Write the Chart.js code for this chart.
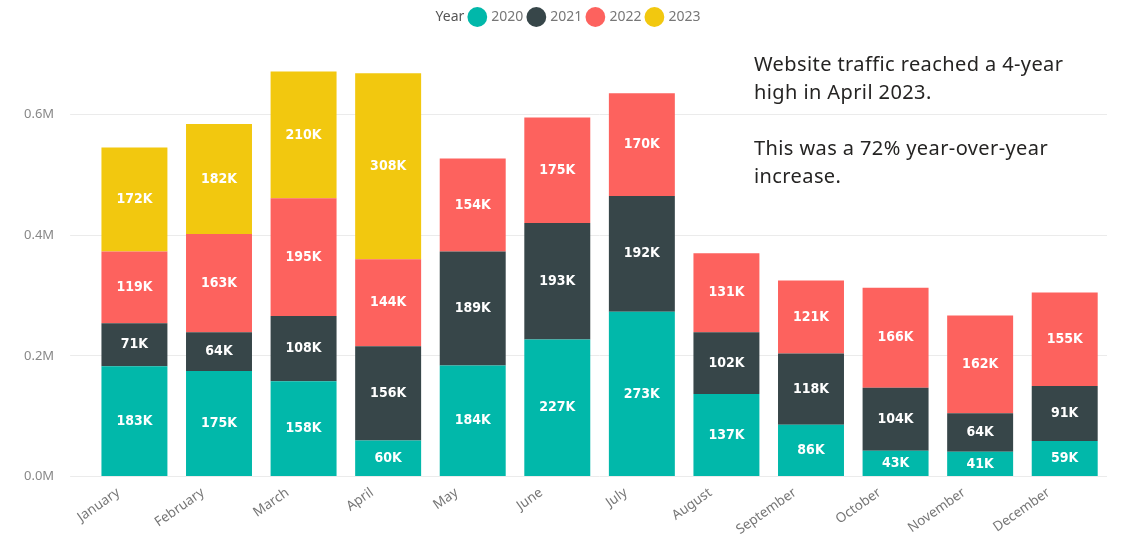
<!DOCTYPE html>
<html>
<head>
<meta charset="utf-8">
<script src="https://cdn.jsdelivr.net/npm/chart.js@4"></script>
<style>
  html, body { margin: 0; padding: 0; background: #fff; }
  #wrap { position: relative; width: 1132px; height: 539px; }
  #note {
    position: absolute; left: 754px; top: 50px; width: 345px;
    font-family: "Noto Sans", "Open Sans", sans-serif; font-size: 20px;
    letter-spacing: 0.4px;
    line-height: 28px; color: #252423;
  }
  #note p { margin: 0 0 28px 0; }
</style>
</head>
<body>
<div id="wrap">
  <canvas id="trafficChart" width="1132" height="539"></canvas>
  <div id="note">
    <p>Website traffic reached a 4-year high in April 2023.</p>
    <p>This was a 72% year-over-year increase.</p>
  </div>
</div>
<script>
// values in thousands
const months = ['January', 'February', 'March', 'April', 'May', 'June', 'July',
                'August', 'September', 'October', 'November', 'December'];
const years = ['2020', '2021', '2022', '2023'];
const y2020 = [183, 175, 158, 60, 184, 227, 273, 137, 86, 43, 41, 59];
const y2021 = [71, 64, 108, 156, 189, 193, 192, 102, 118, 104, 64, 91];
const y2022 = [119, 163, 195, 144, 154, 175, 170, 131, 121, 166, 162, 155];
const y2023 = [172, 182, 210, 308, null, null, null, null, null, null, null, null];
const yTicks = [0, 0.2, 0.4, 0.6]; // millions

const colors = ['#01B8AA', '#374649', '#FD625E', '#F2C80F'];
const series = [y2020, y2021, y2022, y2023];

// white value labels in the middle of each segment
const barLabels = {
  id: 'barLabels',
  afterDatasetsDraw(chart) {
    const ctx = chart.ctx;
    ctx.save();
    ctx.fillStyle = '#ffffff';
    ctx.font = '600 14px "DejaVu Sans Condensed", "DejaVu Sans", sans-serif';
    ctx.textAlign = 'center';
    ctx.textBaseline = 'middle';
    chart.data.datasets.forEach((ds, i) => {
      const meta = chart.getDatasetMeta(i);
      meta.data.forEach((bar, j) => {
        const v = ds.data[j];
        if (v == null) return;
        ctx.fillText(Math.round(v / 1000) + 'K', bar.x, (bar.y + bar.base) / 2);
      });
    });
    ctx.restore();
  }
};

// extra room under the legend
const legendGap = {
  id: 'legendGap',
  beforeInit(chart) {
    const fit = chart.legend.fit;
    chart.legend.fit = function () {
      fit.bind(chart.legend)();
      this.height += 20;
    };
  }
};

const ctx = document.getElementById('trafficChart').getContext('2d');
new Chart(ctx, {
  type: 'bar',
  data: {
    labels: months,
    datasets: series.map((s, i) => ({
      label: years[i],
      data: s.map(v => v == null ? null : v * 1000),
      backgroundColor: colors[i],
      barPercentage: 0.78,
      categoryPercentage: 1.0,
      borderWidth: 0
    }))
  },
  options: {
    responsive: false,
    animation: false,
    layout: { padding: { left: 8, right: 25, top: 4, bottom: 1 } },
    scales: {
      x: {
        stacked: true,
        grid: { display: false },
        border: { display: false },
        ticks: {
          color: '#777',
          font: { family: '"Noto Sans", sans-serif', size: 13.5 },
          minRotation: 35,
          maxRotation: 35,
          labelOffset: -16,
          padding: 0
        }
      },
      y: {
        stacked: true,
        min: 0,
        max: 700000,
        border: { display: false },
        grid: { color: '#ebebeb', tickLength: 22, lineWidth: 1 },
        afterBuildTicks(axis) {
          axis.ticks = yTicks.map(v => ({ value: v * 1e6 }));
        },
        ticks: {
          color: '#888',
          padding: 16,
          font: { family: '"Noto Sans", sans-serif', size: 13 },
          callback: v => (v / 1e6).toFixed(1) + 'M'
        }
      }
    },
    plugins: {
      tooltip: { enabled: false },
      legend: {
        position: 'top',
        onClick: () => {},
        labels: {
          usePointStyle: true,
          pointStyle: 'circle',
          boxWidth: 14,
          boxHeight: 14,
          padding: 6,
          font: { family: '"Noto Sans", sans-serif', size: 14 },
          generateLabels(chart) {
            const items = chart.data.datasets.map((ds, i) => ({
              text: ds.label,
              fillStyle: ds.backgroundColor,
              strokeStyle: ds.backgroundColor,
              lineWidth: 0,
              pointStyle: 'circle',
              fontColor: '#777',
              hidden: false,
              datasetIndex: i
            }));
            items.unshift({
              text: 'Year',
              fillStyle: 'rgba(0,0,0,0)',
              strokeStyle: 'rgba(0,0,0,0)',
              lineWidth: 0,
              pointStyle: 'circle',
              fontColor: '#555',
              hidden: false,
              datasetIndex: -1
            });
            return items;
          }
        }
      }
    }
  },
  plugins: [barLabels, legendGap]
});
</script>
</body>
</html>
